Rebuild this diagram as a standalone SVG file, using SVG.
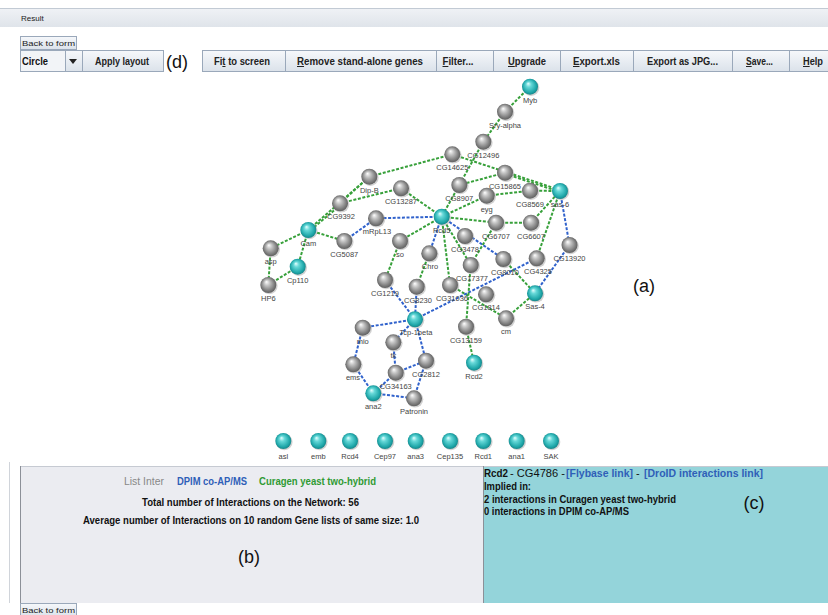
<svg xmlns="http://www.w3.org/2000/svg" width="828" height="615" viewBox="0 0 828 615">
<defs>
<radialGradient id="gGray" cx="50%" cy="50%" r="55%" fx="38%" fy="30%">
<stop offset="0" stop-color="#ffffff"/><stop offset="0.3" stop-color="#c6c6c6"/><stop offset="0.75" stop-color="#7c7c7c"/><stop offset="1" stop-color="#555"/>
</radialGradient>
<radialGradient id="gCyan" cx="50%" cy="50%" r="55%" fx="38%" fy="30%">
<stop offset="0" stop-color="#e6ffff"/><stop offset="0.3" stop-color="#66d8d8"/><stop offset="0.75" stop-color="#20a8aa"/><stop offset="1" stop-color="#137a7e"/>
</radialGradient>
<linearGradient id="btnGrad" x1="0" y1="0" x2="0" y2="1">
<stop offset="0" stop-color="#f6f8fb"/><stop offset="1" stop-color="#dbe2ea"/>
</linearGradient>
<linearGradient id="barGrad" x1="0" y1="0" x2="0" y2="1">
<stop offset="0" stop-color="#f0f2f6"/><stop offset="1" stop-color="#dfe4ea"/>
</linearGradient>
</defs>
<style>
.eg{stroke:#37a03a;stroke-width:2;stroke-dasharray:3 1.6;fill:none}
.eb{stroke:#3062cc;stroke-width:2;stroke-dasharray:3 1.6;fill:none}
.sh{fill:#9a9a9a;opacity:0.45}
.ng{fill:url(#gGray)}
.nc{fill:url(#gCyan)}
.lbl{font-family:"Liberation Sans",Arial,sans-serif;font-size:7.5px;fill:#444;text-anchor:middle}
.btn{fill:url(#btnGrad);stroke:#9aa8ba;stroke-width:1}
.bt{font-family:"Liberation Sans",Arial,sans-serif;font-size:10px;font-weight:bold;fill:#222;text-anchor:middle}
.sm{font-family:"Liberation Sans",Arial,sans-serif;font-size:8px;fill:#222}
.pt{font-family:"Liberation Sans",Arial,sans-serif;font-size:10px;font-weight:bold;fill:#111}
.big{font-family:"Liberation Sans",Arial,sans-serif;font-size:18px;fill:#111;text-anchor:middle}
.u{text-decoration:underline}
</style>
<rect x="0" y="0" width="828" height="615" fill="#ffffff"/>
<!-- Result bar -->
<g id="resultbar">
<rect x="0" y="8" width="828" height="19" fill="url(#barGrad)"/>
<line x1="0" y1="8.5" x2="828" y2="8.5" stroke="#c2cad4"/>
<text x="21" y="21" class="sm">Result</text>
</g>
<!-- toolbar -->
<g id="toolbar">
<rect x="20.5" y="36.5" width="56" height="13" class="btn"/>
<text x="22" y="46" class="sm" textLength="53" lengthAdjust="spacingAndGlyphs">Back to form</text>
<rect x="20.5" y="50.5" width="45" height="21" fill="#f2f4f7" stroke="#9aa8ba"/>
<text x="22" y="65" class="pt" textLength="26" lengthAdjust="spacingAndGlyphs">Circle</text>
<rect x="65.5" y="50.5" width="17" height="21" class="btn"/>
<path d="M69,59 L77,59 L73,64 Z" fill="#222"/>
<rect x="82.5" y="50.5" width="81" height="21" class="btn"/>
<text x="122" y="65" class="bt" textLength="54" lengthAdjust="spacingAndGlyphs">Apply layout</text>
<text x="177" y="68" class="big">(d)</text>
<rect x="202.5" y="50.5" width="83" height="21" class="btn"/>
<text x="242" y="65" class="bt" textLength="56" lengthAdjust="spacingAndGlyphs">Fi<tspan class="u">t</tspan> to screen</text>
<rect x="285.5" y="50.5" width="151" height="21" class="btn"/>
<text x="360" y="65" class="bt" textLength="126" lengthAdjust="spacingAndGlyphs"><tspan class="u">R</tspan>emove stand-alone genes</text>
<rect x="436.5" y="50.5" width="57" height="21" class="btn"/>
<text x="458" y="65" class="bt" textLength="31" lengthAdjust="spacingAndGlyphs"><tspan class="u">F</tspan>ilter...</text>
<rect x="493.5" y="50.5" width="67" height="21" class="btn"/>
<text x="527" y="65" class="bt" textLength="38" lengthAdjust="spacingAndGlyphs"><tspan class="u">U</tspan>pgrade</text>
<rect x="560.5" y="50.5" width="73" height="21" class="btn"/>
<text x="596.5" y="65" class="bt" textLength="47" lengthAdjust="spacingAndGlyphs"><tspan class="u">E</tspan>xport.xls</text>
<rect x="633.5" y="50.5" width="99" height="21" class="btn"/>
<text x="682.5" y="65" class="bt" textLength="71" lengthAdjust="spacingAndGlyphs">Export as JPG...</text>
<rect x="732.5" y="50.5" width="57" height="21" class="btn"/>
<text x="759.5" y="65" class="bt" textLength="27" lengthAdjust="spacingAndGlyphs"><tspan class="u">S</tspan>ave...</text>
<rect x="789.5" y="50.5" width="45" height="21" class="btn"/>
<text x="813" y="65" class="bt" textLength="20" lengthAdjust="spacingAndGlyphs"><tspan class="u">H</tspan>elp</text>
</g>
<text x="644" y="292" class="big">(a)</text>
<!-- connectors -->
<g id="connectors">
<line class="eg" x1="530" y1="86.7" x2="505" y2="111.7"/>
<line class="eg" x1="505" y1="111.7" x2="483.3" y2="141.7"/>
<line class="eg" x1="483.3" y1="141.7" x2="459.3" y2="185"/>
<line class="eg" x1="452.3" y1="154.3" x2="369.3" y2="176.7"/>
<line class="eg" x1="452.3" y1="154.3" x2="560" y2="190"/>
<line class="eg" x1="505" y1="173.7" x2="560" y2="192"/>
<line class="eg" x1="505" y1="172.7" x2="459.3" y2="185"/>
<line class="eg" x1="459.3" y1="185" x2="441.7" y2="216.7"/>
<line class="eg" x1="486.7" y1="195.7" x2="441.7" y2="216.7"/>
<line class="eg" x1="486.7" y1="195.7" x2="530" y2="190.7"/>
<line class="eg" x1="530" y1="190.7" x2="560" y2="191"/>
<line class="eg" x1="441.7" y1="216.7" x2="496" y2="222.7"/>
<line class="eg" x1="496" y1="222.7" x2="531" y2="222.7"/>
<line class="eg" x1="531" y1="222.7" x2="560" y2="191"/>
<line class="eg" x1="560" y1="191" x2="536.7" y2="258.3"/>
<line class="eb" x1="560" y1="191" x2="569.5" y2="245"/>
<line class="eb" x1="569.5" y1="245" x2="535" y2="293.3"/>
<line class="eg" x1="503.3" y1="259" x2="535" y2="293.3"/>
<line class="eg" x1="506" y1="318.3" x2="535" y2="293.3"/>
<line class="eg" x1="450" y1="285" x2="506" y2="318.3"/>
<line class="eb" x1="536.7" y1="258.3" x2="415" y2="319.3"/>
<line class="eb" x1="441.7" y1="216.7" x2="503.3" y2="259"/>
<line class="eg" x1="441.7" y1="216.7" x2="470.7" y2="265"/>
<line class="eg" x1="441.7" y1="216.7" x2="450" y2="285"/>
<line class="eb" x1="441.7" y1="216.7" x2="429.3" y2="253.3"/>
<line class="eg" x1="441.7" y1="216.7" x2="400" y2="241"/>
<line class="eb" x1="441.7" y1="216.7" x2="376" y2="218.3"/>
<line class="eg" x1="441.7" y1="216.7" x2="401" y2="188.3"/>
<line class="eg" x1="496" y1="222.7" x2="470.7" y2="265"/>
<line class="eg" x1="470.7" y1="265" x2="466" y2="326.7"/>
<line class="eg" x1="466" y1="326.7" x2="474" y2="362.7"/>
<line class="eg" x1="429.3" y1="253.3" x2="416.7" y2="286.7"/>
<line class="eg" x1="400" y1="241" x2="385" y2="280"/>
<line class="eb" x1="385" y1="280" x2="415" y2="319.3"/>
<line class="eb" x1="416.7" y1="286.7" x2="415" y2="319.3"/>
<line class="eb" x1="415" y1="319.3" x2="362.7" y2="327.7"/>
<line class="eb" x1="415" y1="319.3" x2="393.3" y2="342.3"/>
<line class="eb" x1="415" y1="319.3" x2="426" y2="360.7"/>
<line class="eb" x1="362.7" y1="327.7" x2="353.3" y2="364.3"/>
<line class="eb" x1="353.3" y1="364.3" x2="373.3" y2="393.3"/>
<line class="eb" x1="393.3" y1="342.3" x2="395.7" y2="372.7"/>
<line class="eb" x1="395.7" y1="372.7" x2="426" y2="360.7"/>
<line class="eb" x1="395.7" y1="372.7" x2="373.3" y2="393.3"/>
<line class="eb" x1="373.3" y1="393.3" x2="414" y2="398.3"/>
<line class="eb" x1="426" y1="360.7" x2="414" y2="398.3"/>
<line class="eg" x1="369.3" y1="176.7" x2="340" y2="203.3"/>
<line class="eg" x1="369.3" y1="176.7" x2="308.3" y2="230"/>
<line class="eg" x1="340" y1="203.3" x2="401" y2="188.3"/>
<line class="eg" x1="341" y1="204.5" x2="309.3" y2="231.3"/>
<line class="eg" x1="308.3" y1="230" x2="270.7" y2="248.3"/>
<line class="eg" x1="308.3" y1="230" x2="297.7" y2="266.7"/>
<line class="eg" x1="308.3" y1="230" x2="344.3" y2="241"/>
<line class="eb" x1="344.3" y1="241" x2="376" y2="218.3"/>
<line class="eg" x1="270.7" y1="248.3" x2="268.3" y2="285"/>
<line class="eg" x1="268.3" y1="285" x2="297.7" y2="266.7"/>
</g>
<!-- nodes -->
<g id="n-Myb"><circle cx="531" cy="87.7" r="8.3" class="sh"/><circle cx="530" cy="86.7" r="8" class="nc"/><text x="530" y="102.7" class="lbl">Myb</text></g>
<g id="n-Sry-alpha"><circle cx="506" cy="112.7" r="8.3" class="sh"/><circle cx="505" cy="111.7" r="8" class="ng"/><text x="505" y="127.7" class="lbl">Sry-alpha</text></g>
<g id="n-CG12496"><circle cx="484.3" cy="142.7" r="8.3" class="sh"/><circle cx="483.3" cy="141.7" r="8" class="ng"/><text x="483.3" y="157.7" class="lbl">CG12496</text></g>
<g id="n-CG14625"><circle cx="453.3" cy="155.3" r="8.3" class="sh"/><circle cx="452.3" cy="154.3" r="8" class="ng"/><text x="452.3" y="170.3" class="lbl">CG14625</text></g>
<g id="n-CG15865"><circle cx="506" cy="173.7" r="8.3" class="sh"/><circle cx="505" cy="172.7" r="8" class="ng"/><text x="505" y="188.7" class="lbl">CG15865</text></g>
<g id="n-CG8907"><circle cx="460.3" cy="186" r="8.3" class="sh"/><circle cx="459.3" cy="185" r="8" class="ng"/><text x="459.3" y="201" class="lbl">CG8907</text></g>
<g id="n-eyg"><circle cx="487.7" cy="196.7" r="8.3" class="sh"/><circle cx="486.7" cy="195.7" r="8" class="ng"/><text x="486.7" y="211.7" class="lbl">eyg</text></g>
<g id="n-CG8569"><circle cx="531" cy="191.7" r="8.3" class="sh"/><circle cx="530" cy="190.7" r="8" class="ng"/><text x="530" y="206.7" class="lbl">CG8569</text></g>
<g id="n-sas-6"><circle cx="561" cy="192" r="8.3" class="sh"/><circle cx="560" cy="191" r="8" class="nc"/><text x="560" y="207" class="lbl">sas-6</text></g>
<g id="n-Rcd5"><circle cx="442.7" cy="217.7" r="8.3" class="sh"/><circle cx="441.7" cy="216.7" r="8" class="nc"/><text x="441.7" y="232.7" class="lbl">Rcd5</text></g>
<g id="n-CG6707"><circle cx="497" cy="223.7" r="8.3" class="sh"/><circle cx="496" cy="222.7" r="8" class="ng"/><text x="496" y="238.7" class="lbl">CG6707</text></g>
<g id="n-CG6607"><circle cx="532" cy="223.7" r="8.3" class="sh"/><circle cx="531" cy="222.7" r="8" class="ng"/><text x="531" y="238.7" class="lbl">CG6607</text></g>
<g id="n-CG13920"><circle cx="570.5" cy="246" r="8.3" class="sh"/><circle cx="569.5" cy="245" r="8" class="ng"/><text x="569.5" y="261" class="lbl">CG13920</text></g>
<g id="n-Dip-B"><circle cx="370.3" cy="177.7" r="8.3" class="sh"/><circle cx="369.3" cy="176.7" r="8" class="ng"/><text x="369.3" y="192.7" class="lbl">Dip-B</text></g>
<g id="n-CG13287"><circle cx="402" cy="189.3" r="8.3" class="sh"/><circle cx="401" cy="188.3" r="8" class="ng"/><text x="401" y="204.3" class="lbl">CG13287</text></g>
<g id="n-CG9392"><circle cx="341" cy="204.3" r="8.3" class="sh"/><circle cx="340" cy="203.3" r="8" class="ng"/><text x="341" y="219.3" class="lbl">CG9392</text></g>
<g id="n-mRpL13"><circle cx="377" cy="219.3" r="8.3" class="sh"/><circle cx="376" cy="218.3" r="8" class="ng"/><text x="377" y="234.3" class="lbl">mRpL13</text></g>
<g id="n-Cam"><circle cx="309.3" cy="231" r="8.3" class="sh"/><circle cx="308.3" cy="230" r="8" class="nc"/><text x="308.3" y="246" class="lbl">Cam</text></g>
<g id="n-CG5087"><circle cx="345.3" cy="242" r="8.3" class="sh"/><circle cx="344.3" cy="241" r="8" class="ng"/><text x="344.3" y="257" class="lbl">CG5087</text></g>
<g id="n-asp"><circle cx="271.7" cy="249.3" r="8.3" class="sh"/><circle cx="270.7" cy="248.3" r="8" class="ng"/><text x="270.7" y="264.3" class="lbl">asp</text></g>
<g id="n-Cp110"><circle cx="298.7" cy="267.7" r="8.3" class="sh"/><circle cx="297.7" cy="266.7" r="8" class="nc"/><text x="297.7" y="282.7" class="lbl">Cp110</text></g>
<g id="n-HP6"><circle cx="269.3" cy="286" r="8.3" class="sh"/><circle cx="268.3" cy="285" r="8" class="ng"/><text x="268.3" y="301" class="lbl">HP6</text></g>
<g id="n-so"><circle cx="401" cy="242" r="8.3" class="sh"/><circle cx="400" cy="241" r="8" class="ng"/><text x="400" y="257" class="lbl">so</text></g>
<g id="n-Chro"><circle cx="430.3" cy="254.3" r="8.3" class="sh"/><circle cx="429.3" cy="253.3" r="8" class="ng"/><text x="430" y="269.3" class="lbl">Chro</text></g>
<g id="n-CG3478"><circle cx="466" cy="237" r="8.3" class="sh"/><circle cx="465" cy="236" r="8" class="ng"/><text x="465" y="252" class="lbl">CG3478</text></g>
<g id="n-CG17377"><circle cx="471.7" cy="266" r="8.3" class="sh"/><circle cx="470.7" cy="265" r="8" class="ng"/><text x="472" y="281" class="lbl">CG17377</text></g>
<g id="n-CG8010"><circle cx="504.3" cy="260" r="8.3" class="sh"/><circle cx="503.3" cy="259" r="8" class="ng"/><text x="505" y="275" class="lbl">CG8010</text></g>
<g id="n-CG4325"><circle cx="537.7" cy="259.3" r="8.3" class="sh"/><circle cx="536.7" cy="258.3" r="8" class="ng"/><text x="538" y="274.3" class="lbl">CG4325</text></g>
<g id="n-CG1219"><circle cx="386" cy="281" r="8.3" class="sh"/><circle cx="385" cy="280" r="8" class="ng"/><text x="385" y="296" class="lbl">CG1219</text></g>
<g id="n-CG8230"><circle cx="417.7" cy="287.7" r="8.3" class="sh"/><circle cx="416.7" cy="286.7" r="8" class="ng"/><text x="418" y="302.7" class="lbl">CG8230</text></g>
<g id="n-CG31036"><circle cx="451" cy="286" r="8.3" class="sh"/><circle cx="450" cy="285" r="8" class="ng"/><text x="452" y="301" class="lbl">CG31036</text></g>
<g id="n-CG1814"><circle cx="487" cy="295.3" r="8.3" class="sh"/><circle cx="486" cy="294.3" r="8" class="ng"/><text x="486" y="310.3" class="lbl">CG1814</text></g>
<g id="n-cm"><circle cx="507" cy="319.3" r="8.3" class="sh"/><circle cx="506" cy="318.3" r="8" class="ng"/><text x="506" y="334.3" class="lbl">cm</text></g>
<g id="n-Sas-4"><circle cx="536" cy="294.3" r="8.3" class="sh"/><circle cx="535" cy="293.3" r="8" class="nc"/><text x="535" y="309.3" class="lbl">Sas-4</text></g>
<g id="n-CG13159"><circle cx="467" cy="327.7" r="8.3" class="sh"/><circle cx="466" cy="326.7" r="8" class="ng"/><text x="466" y="342.7" class="lbl">CG13159</text></g>
<g id="n-Rcd2"><circle cx="475" cy="363.7" r="8.3" class="sh"/><circle cx="474" cy="362.7" r="8" class="nc"/><text x="474" y="378.7" class="lbl">Rcd2</text></g>
<g id="n-Tcp-1beta"><circle cx="416" cy="320.3" r="8.3" class="sh"/><circle cx="415" cy="319.3" r="8" class="nc"/><text x="416" y="335.3" class="lbl">Tcp-1beta</text></g>
<g id="n-mio"><circle cx="363.7" cy="328.7" r="8.3" class="sh"/><circle cx="362.7" cy="327.7" r="8" class="ng"/><text x="362.7" y="343.7" class="lbl">mio</text></g>
<g id="n-tk"><circle cx="394.3" cy="343.3" r="8.3" class="sh"/><circle cx="393.3" cy="342.3" r="8" class="ng"/><text x="393.3" y="358.3" class="lbl">tk</text></g>
<g id="n-CG2812"><circle cx="427" cy="361.7" r="8.3" class="sh"/><circle cx="426" cy="360.7" r="8" class="ng"/><text x="426" y="376.7" class="lbl">CG2812</text></g>
<g id="n-ems"><circle cx="354.3" cy="365.3" r="8.3" class="sh"/><circle cx="353.3" cy="364.3" r="8" class="ng"/><text x="353" y="380.3" class="lbl">ems</text></g>
<g id="n-CG34163"><circle cx="396.7" cy="373.7" r="8.3" class="sh"/><circle cx="395.7" cy="372.7" r="8" class="ng"/><text x="395.7" y="388.7" class="lbl">CG34163</text></g>
<g id="n-ana2"><circle cx="374.3" cy="394.3" r="8.3" class="sh"/><circle cx="373.3" cy="393.3" r="8" class="nc"/><text x="373.3" y="409.3" class="lbl">ana2</text></g>
<g id="n-Patronin"><circle cx="415" cy="399.3" r="8.3" class="sh"/><circle cx="414" cy="398.3" r="8" class="ng"/><text x="414" y="414.3" class="lbl">Patronin</text></g>
<g id="n-asl"><circle cx="284.3" cy="442" r="8.3" class="sh"/><circle cx="283.3" cy="441" r="8" class="nc"/><text x="283.3" y="459" class="lbl">asl</text></g>
<g id="n-emb"><circle cx="319.3" cy="442" r="8.3" class="sh"/><circle cx="318.3" cy="441" r="8" class="nc"/><text x="318.3" y="459" class="lbl">emb</text></g>
<g id="n-Rcd4"><circle cx="351" cy="442" r="8.3" class="sh"/><circle cx="350" cy="441" r="8" class="nc"/><text x="350" y="459" class="lbl">Rcd4</text></g>
<g id="n-Cep97"><circle cx="386" cy="442" r="8.3" class="sh"/><circle cx="385" cy="441" r="8" class="nc"/><text x="385" y="459" class="lbl">Cep97</text></g>
<g id="n-ana3"><circle cx="416.7" cy="442" r="8.3" class="sh"/><circle cx="415.7" cy="441" r="8" class="nc"/><text x="415.7" y="459" class="lbl">ana3</text></g>
<g id="n-Cep135"><circle cx="451" cy="442" r="8.3" class="sh"/><circle cx="450" cy="441" r="8" class="nc"/><text x="450" y="459" class="lbl">Cep135</text></g>
<g id="n-Rcd1"><circle cx="484.3" cy="442" r="8.3" class="sh"/><circle cx="483.3" cy="441" r="8" class="nc"/><text x="483.3" y="459" class="lbl">Rcd1</text></g>
<g id="n-ana1"><circle cx="517.7" cy="442" r="8.3" class="sh"/><circle cx="516.7" cy="441" r="8" class="nc"/><text x="516.7" y="459" class="lbl">ana1</text></g>
<g id="n-SAK"><circle cx="552" cy="442" r="8.3" class="sh"/><circle cx="551" cy="441" r="8" class="nc"/><text x="551" y="459" class="lbl">SAK</text></g>
<!-- bottom panels -->
<g id="panel-b">
<line x1="9.5" y1="462" x2="9.5" y2="603" stroke="#d0d4da"/>
<rect x="20" y="466" width="463" height="137" fill="#ebecf1"/>
<line x1="20" y1="466.5" x2="483" y2="466.5" stroke="#c6cad2"/>
<line x1="20.5" y1="466" x2="20.5" y2="603" stroke="#8c9098"/>
<text x="124" y="485" font-family="Liberation Sans, Arial, sans-serif" font-size="10" fill="#888" textLength="40" lengthAdjust="spacingAndGlyphs">List Inter</text>
<text x="177" y="485" class="pt" fill="#2f5fb8" style="fill:#2f5fb8" textLength="70" lengthAdjust="spacingAndGlyphs">DPIM co-AP/MS</text>
<text x="259" y="485" class="pt" style="fill:#2f9a33" textLength="117" lengthAdjust="spacingAndGlyphs">Curagen yeast two-hybrid</text>
<text x="142" y="506" class="pt" textLength="217" lengthAdjust="spacingAndGlyphs">Total number of Interactions on the Network: 56</text>
<text x="83" y="524" class="pt" textLength="336" lengthAdjust="spacingAndGlyphs">Average number of Interactions on 10 random Gene lists of same size: 1.0</text>
<text x="249" y="563" class="big">(b)</text>
</g>
<g id="panel-c">
<rect x="483" y="466" width="345" height="137" fill="#94d4da"/>
<line x1="483" y1="466.5" x2="828" y2="466.5" stroke="#c6cad2"/>
<line x1="483.5" y1="466" x2="483.5" y2="603" stroke="#8c9098"/>
<text x="484" y="477" class="pt" font-size="11" style="font-size:11px" textLength="24" lengthAdjust="spacingAndGlyphs">Rcd2</text>
<text x="510" y="477" font-family="Liberation Sans, Arial, sans-serif" font-size="11" fill="#111" textLength="55" lengthAdjust="spacingAndGlyphs">- CG4786 -</text>
<text x="566" y="477" class="pt" style="font-size:11px;fill:#2f5fb8" textLength="67" lengthAdjust="spacingAndGlyphs">[Flybase link]</text>
<text x="636" y="477" font-family="Liberation Sans, Arial, sans-serif" font-size="11" fill="#111">-</text>
<text x="644" y="477" class="pt" style="font-size:11px;fill:#2f5fb8" textLength="119" lengthAdjust="spacingAndGlyphs">[DroID interactions link]</text>
<text x="484" y="489.5" class="pt" textLength="47" lengthAdjust="spacingAndGlyphs">Implied in:</text>
<text x="484" y="502.5" class="pt" textLength="192" lengthAdjust="spacingAndGlyphs">2 interactions in Curagen yeast two-hybrid</text>
<text x="484" y="515" class="pt" textLength="145" lengthAdjust="spacingAndGlyphs">0 interactions in DPIM co-AP/MS</text>
<text x="754" y="509" class="big">(c)</text>
</g>
<g id="back-bottom">
<rect x="20.5" y="603.5" width="56" height="13" class="btn"/>
<text x="22" y="613" class="sm" textLength="53" lengthAdjust="spacingAndGlyphs">Back to form</text>
</g>
</svg>
